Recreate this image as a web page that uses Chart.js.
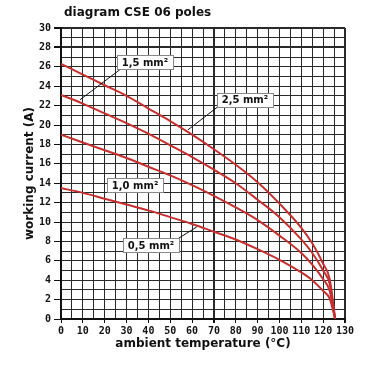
<!DOCTYPE html>
<html><head><meta charset="utf-8">
<script src="https://cdn.jsdelivr.net/npm/chart.js@4"></script>
<style>html,body{margin:0;padding:0;background:#fff}</style>
</head><body>
<canvas id="c" width="380" height="380"></canvas>
<script>
const chartTitle = 'diagram CSE 06 poles';
const xTitle = 'ambient temperature (°C)';
const yTitle = 'working current (A)';
const temps = [0, 10, 20, 30, 40, 50, 60, 70, 80, 90, 100, 110, 115, 120, 123, 125.5];
const cur25 = [26.3, 25.2, 24.1, 23.0, 21.7, 20.4, 19.0, 17.5, 15.9, 14.1, 11.9, 9.4, 7.8, 5.7, 4.1, 0];
const cur15 = [23.1, 22.2, 21.2, 20.2, 19.1, 17.9, 16.7, 15.4, 14.0, 12.3, 10.5, 8.2, 6.8, 5.0, 3.6, 0];
const cur10 = [19.0, 18.2, 17.4, 16.6, 15.7, 14.8, 13.8, 12.7, 11.5, 10.2, 8.6, 6.8, 5.6, 4.1, 2.9, 0];
const cur05 = [13.5, 13.0, 12.4, 11.8, 11.2, 10.5, 9.8, 9.0, 8.2, 7.2, 6.1, 4.8, 4.0, 2.9, 2.1, 0];
const seriesNames = ['2,5 mm²', '1,5 mm²', '1,0 mm²', '0,5 mm²'];
const seriesValues = [cur25, cur15, cur10, cur05];
const xTickLabels = [0, 10, 20, 30, 40, 50, 60, 70, 80, 90, 100, 110, 120, 130];
const yTickLabels = [0, 2, 4, 6, 8, 10, 12, 14, 16, 18, 20, 22, 24, 26, 28, 30];

// callout label placement in data units (label centre, pointer start, pointer end)
const callouts = [
  {name: seriesNames[0], cx: 84.2, cy: 22.6, line: [[71.9, 21.9], [58.1, 19.5]]},
  {name: seriesNames[1], cx: 38.4, cy: 26.5, line: [[27.5, 25.8], [8.7, 22.6]]},
  {name: seriesNames[2], cx: 33.9, cy: 13.8, line: null},
  {name: seriesNames[3], cx: 41.2, cy: 7.6, line: [[54.0, 8.35], [62.2, 9.5]]}
];

const datasets = seriesValues.map((vals, i) => ({
  label: seriesNames[i],
  data: temps.map((t, k) => ({x: t, y: vals[k]})),
  borderColor: '#c62f2f',
  borderWidth: 2,
  pointRadius: 0,
  fill: false,
  cubicInterpolationMode: 'monotone'
}));

const extras = {
  id: 'extras',
  beforeDraw(chart) {
    const ctx = chart.ctx;
    ctx.save();
    ctx.fillStyle = '#fff';
    ctx.fillRect(0, 0, chart.width, chart.height);
    ctx.restore();
  },
  afterDraw(chart) {
    const ctx = chart.ctx;
    const xs = chart.scales.x, ys = chart.scales.y;
    ctx.save();
    ctx.fillStyle = '#111';
    ctx.font = 'bold 12px "DejaVu Sans"';
    ctx.textAlign = 'left';
    ctx.textBaseline = 'middle';
    ctx.fillText(chartTitle, 64, 13);
    callouts.forEach(c => {
      if (c.line) {
        ctx.strokeStyle = '#111';
        ctx.lineWidth = 1;
        ctx.beginPath();
        ctx.moveTo(xs.getPixelForValue(c.line[0][0]), ys.getPixelForValue(c.line[0][1]));
        ctx.lineTo(xs.getPixelForValue(c.line[1][0]), ys.getPixelForValue(c.line[1][1]));
        ctx.stroke();
      }
      ctx.font = 'bold 10px "DejaVu Sans"';
      const w = ctx.measureText(c.name).width + 10;
      const h = 14;
      const px = xs.getPixelForValue(c.cx), py = ys.getPixelForValue(c.cy);
      ctx.fillStyle = '#fff';
      ctx.fillRect(Math.round(px - w / 2) + 0.5, Math.round(py - h / 2) + 0.5, Math.round(w), h);
      ctx.strokeStyle = '#888';
      ctx.lineWidth = 1;
      ctx.strokeRect(Math.round(px - w / 2) + 0.5, Math.round(py - h / 2) + 0.5, Math.round(w), h);
      ctx.fillStyle = '#111';
      ctx.textAlign = 'center';
      ctx.textBaseline = 'middle';
      ctx.fillText(c.name, px, py + 1);
    });
    ctx.restore();
  }
};

new Chart(document.getElementById('c'), {
  type: 'line',
  data: {datasets},
  plugins: [extras],
  options: {
    responsive: false,
    animation: false,
    layout: {padding: {top: 28, right: 35, bottom: 0, left: 0}},
    plugins: {legend: {display: false}, tooltip: {enabled: false}, title: {display: false}},
    scales: {
      x: {
        type: 'linear', min: 0, max: 130,
        afterFit: s => { s.height = 61; },
        afterBuildTicks: s => { const t = []; for (let v = 0; v <= 130; v += 5) t.push({value: v}); s.ticks = t; },
        ticks: {
          autoSkip: false, maxRotation: 0, padding: 2, color: '#111',
          font: {family: '"DejaVu Sans Mono"', size: 10, weight: 'bold'},
          callback: v => xTickLabels.includes(v) ? String(v) : ''
        },
        grid: {
          color: '#2a2a2a',
          lineWidth: c => (c.tick && (c.tick.value === 70 || c.tick.value === 130)) ? 2 : 1,
          tickLength: 4,
          tickColor: c => (c.tick && xTickLabels.includes(c.tick.value)) ? '#111' : 'rgba(0,0,0,0)'
        },
        border: {color: '#111', width: 2},
        title: {display: true, text: xTitle, color: '#111', padding: {top: 0, bottom: 29},
          font: {family: '"DejaVu Sans"', size: 12, weight: 'bold'}}
      },
      y: {
        type: 'linear', min: 0, max: 30,
        afterFit: s => { s.width = 61; },
        afterBuildTicks: s => { const t = []; for (let v = 0; v <= 30; v += 1) t.push({value: v}); s.ticks = t; },
        ticks: {
          autoSkip: false, padding: 3, color: '#111',
          font: {family: '"DejaVu Sans Mono"', size: 10, weight: 'bold'},
          callback: v => yTickLabels.includes(v) ? String(v) : ''
        },
        grid: {
          color: '#2a2a2a',
          lineWidth: c => (c.tick && (c.tick.value === 28 || c.tick.value === 30)) ? 2 : 1,
          tickLength: 7,
          tickColor: c => (c.tick && yTickLabels.includes(c.tick.value)) ? '#111' : 'rgba(0,0,0,0)'
        },
        border: {color: '#111', width: 2},
        title: {display: true, text: yTitle, color: '#111', padding: {top: 23, bottom: 0},
          font: {family: '"DejaVu Sans"', size: 12, weight: 'bold'}}
      }
    }
  }
});
</script>
</body></html>
